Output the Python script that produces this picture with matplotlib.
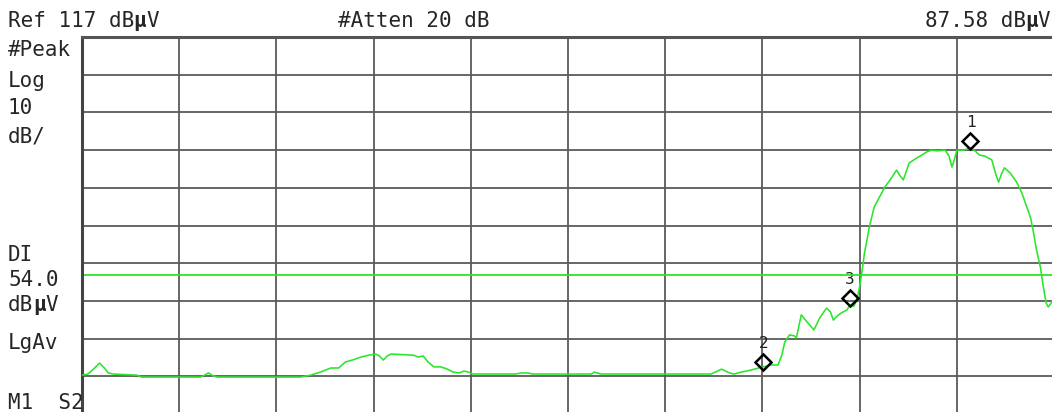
import matplotlib
matplotlib.use("Agg")
import matplotlib.pyplot as plt
import numpy as np

# ---- data (x in horizontal divisions 0..10, amplitude in dBuV) ----
ref_level = 117.0
db_per_div = 10.0
display_line = 54.0

trace_div = [0.00, 0.06, 0.11, 0.18, 0.23, 0.27, 0.32, 0.57, 0.61, 1.22, 1.26, 1.30, 1.35, 1.39,
             2.25, 2.35, 2.45, 2.56, 2.64, 2.71, 2.78, 2.87, 2.95, 3.02, 3.06, 3.10, 3.14, 3.18,
             3.41, 3.46, 3.51, 3.56, 3.62, 3.69, 3.76, 3.82, 3.88, 3.93, 3.98, 4.02, 4.46, 4.52,
             4.59, 4.63, 5.24, 5.27, 5.30, 5.34, 6.47, 6.54, 6.58, 6.62, 6.66, 6.71, 6.78, 6.89,
             6.96, 7.01, 7.09, 7.16, 7.20, 7.23, 7.28, 7.33, 7.35, 7.40, 7.46, 7.53, 7.59, 7.66,
             7.70, 7.73, 7.77, 7.81, 7.87, 7.90, 7.94, 7.97, 8.00, 8.03, 8.05, 8.08, 8.10, 8.15,
             8.21, 8.26, 8.32, 8.38, 8.41, 8.45, 8.51, 8.57, 8.64, 8.69, 8.74, 8.80, 8.88, 8.92,
             8.95, 8.98, 9.00, 9.07, 9.15, 9.20, 9.23, 9.29, 9.36, 9.40, 9.43, 9.46, 9.49, 9.55,
             9.62, 9.67, 9.72, 9.76, 9.79, 9.82, 9.86, 9.89, 9.92, 9.94, 9.97, 10.00]
trace_db = [27.3, 27.6, 28.7, 30.5, 29.2, 27.9, 27.6, 27.3, 26.8, 26.8, 27.3, 27.9, 27.1, 26.8,
            26.8, 27.3, 28.1, 29.2, 29.2, 30.8, 31.3, 32.1, 32.6, 32.9, 32.4, 31.3, 32.4, 32.9,
            32.6, 32.1, 32.4, 30.8, 29.5, 29.5, 28.9, 28.1, 27.9, 28.4, 28.1, 27.6, 27.6, 27.9,
            27.9, 27.6, 27.6, 28.1, 27.9, 27.6, 27.6, 28.4, 28.9, 28.4, 27.9, 27.6, 28.1, 28.7,
            29.2, 29.5, 30.0, 30.0, 32.6, 36.1, 38.0, 37.7, 37.2, 43.3, 41.4, 39.3, 42.5, 45.1,
            44.1, 41.9, 43.0, 43.8, 44.6, 45.9, 45.6, 47.2, 50.7, 55.7, 59.7, 63.7, 66.6, 71.9,
            74.8, 77.2, 79.3, 81.7, 80.4, 79.1, 83.6, 84.6, 85.7, 86.5, 87.0, 86.8, 87.0, 85.4,
            82.5, 84.9, 87.0, 87.0, 87.6, 86.5, 85.7, 85.4, 84.4, 80.7, 78.5, 80.7, 82.3, 80.9,
            78.3, 75.6, 71.9, 69.0, 65.0, 60.5, 56.0, 50.7, 46.4, 45.4, 46.4, 47.8]

marker_labels = ["1", "2", "3"]
marker_div = [9.14, 7.01, 7.90]
marker_db = [89.4, 30.8, 47.8]

header_left = "Ref 117 dBµV"
header_mid = "#Atten 20 dB"
header_right = "87.58 dBµV"
side_labels = ["#Peak", "Log", "10", "dB/", "DI", "54.0", "dBµV", "LgAv", "M1  S2"]
side_label_y = [56, 87, 114, 142, 261, 286, 311, 349, 409]  # baselines in pixels from top

# ---- figure ----
W, H = 1052, 412
fig = plt.figure(figsize=(W / 100, H / 100), dpi=100)
fig.patch.set_facecolor("white")

left_px, right_px, top_px, bot_px = 82, 1054, 37, 414
ax = fig.add_axes([left_px / W, 1 - bot_px / H, (right_px - left_px) / W, (bot_px - top_px) / H])
ax.set_xlim(0, 10)
ax.set_ylim(ref_level - 10 * db_per_div, ref_level)
ax.set_facecolor("white")
ax.set_clip_on(False)

grid_c = "#5a5a5a"
for i in range(1, 10):
    ax.axvline(i, color=grid_c, lw=1.3, zorder=1)
    ax.axhline(ref_level - i * db_per_div, color=grid_c, lw=1.3, zorder=1)
for s in ax.spines.values():
    s.set_visible(False)
ax.spines["left"].set_visible(True)
ax.spines["top"].set_visible(True)
ax.spines["left"].set_color("#444444")
ax.spines["top"].set_color("#555555")
ax.spines["left"].set_linewidth(2.2)
ax.spines["top"].set_linewidth(2.2)
ax.set_xticks([])
ax.set_yticks([])

green = "#2ae62a"
ax.axhline(display_line, color=green, lw=1.3, zorder=2)
ax.plot(trace_div, trace_db, color=green, lw=1.15, zorder=3)

for lab, xd, yd in zip(marker_labels, marker_div, marker_db):
    ax.plot([xd], [yd], marker="D", ms=8, mfc="none", mec="black", mew=1.8, zorder=4)
    ax.annotate(lab, (xd, yd), xytext=(0, 8), textcoords="offset points", ha="center",
                va="bottom", fontsize=11.5, family="DejaVu Sans Mono", color="#222222", zorder=1.5)

fs = 15
tc = "#262626"
mono = "DejaVu Sans Mono"
char_px = 0.602 * fs * 100 / 72  # monospace advance in pixels


def mono_text(x_px, y_px, s, ha="left"):
    """Draw monospace text with the micro sign in bold, like the analyser screen."""
    if ha == "right":
        x_px = x_px - len(s) * char_px
    parts = []
    cur = ""
    for ch in s:
        if ch == "µ":
            if cur:
                parts.append((cur, "normal"))
            parts.append((ch, "bold"))
            cur = ""
        else:
            cur += ch
    if cur:
        parts.append((cur, "normal"))
    x = x_px
    for txt, wgt in parts:
        fig.text(x / W, 1 - y_px / H, txt, fontsize=fs, family=mono, color=tc,
                 va="baseline", ha="left", fontweight=wgt)
        x += len(txt) * char_px


mono_text(8, 27, header_left)
mono_text(338, 27, header_mid)
mono_text(1050, 27, header_right, ha="right")
for lab, yb in zip(side_labels, side_label_y):
    mono_text(8, yb, lab)

fig.savefig("out.png", dpi=100, facecolor="white")
